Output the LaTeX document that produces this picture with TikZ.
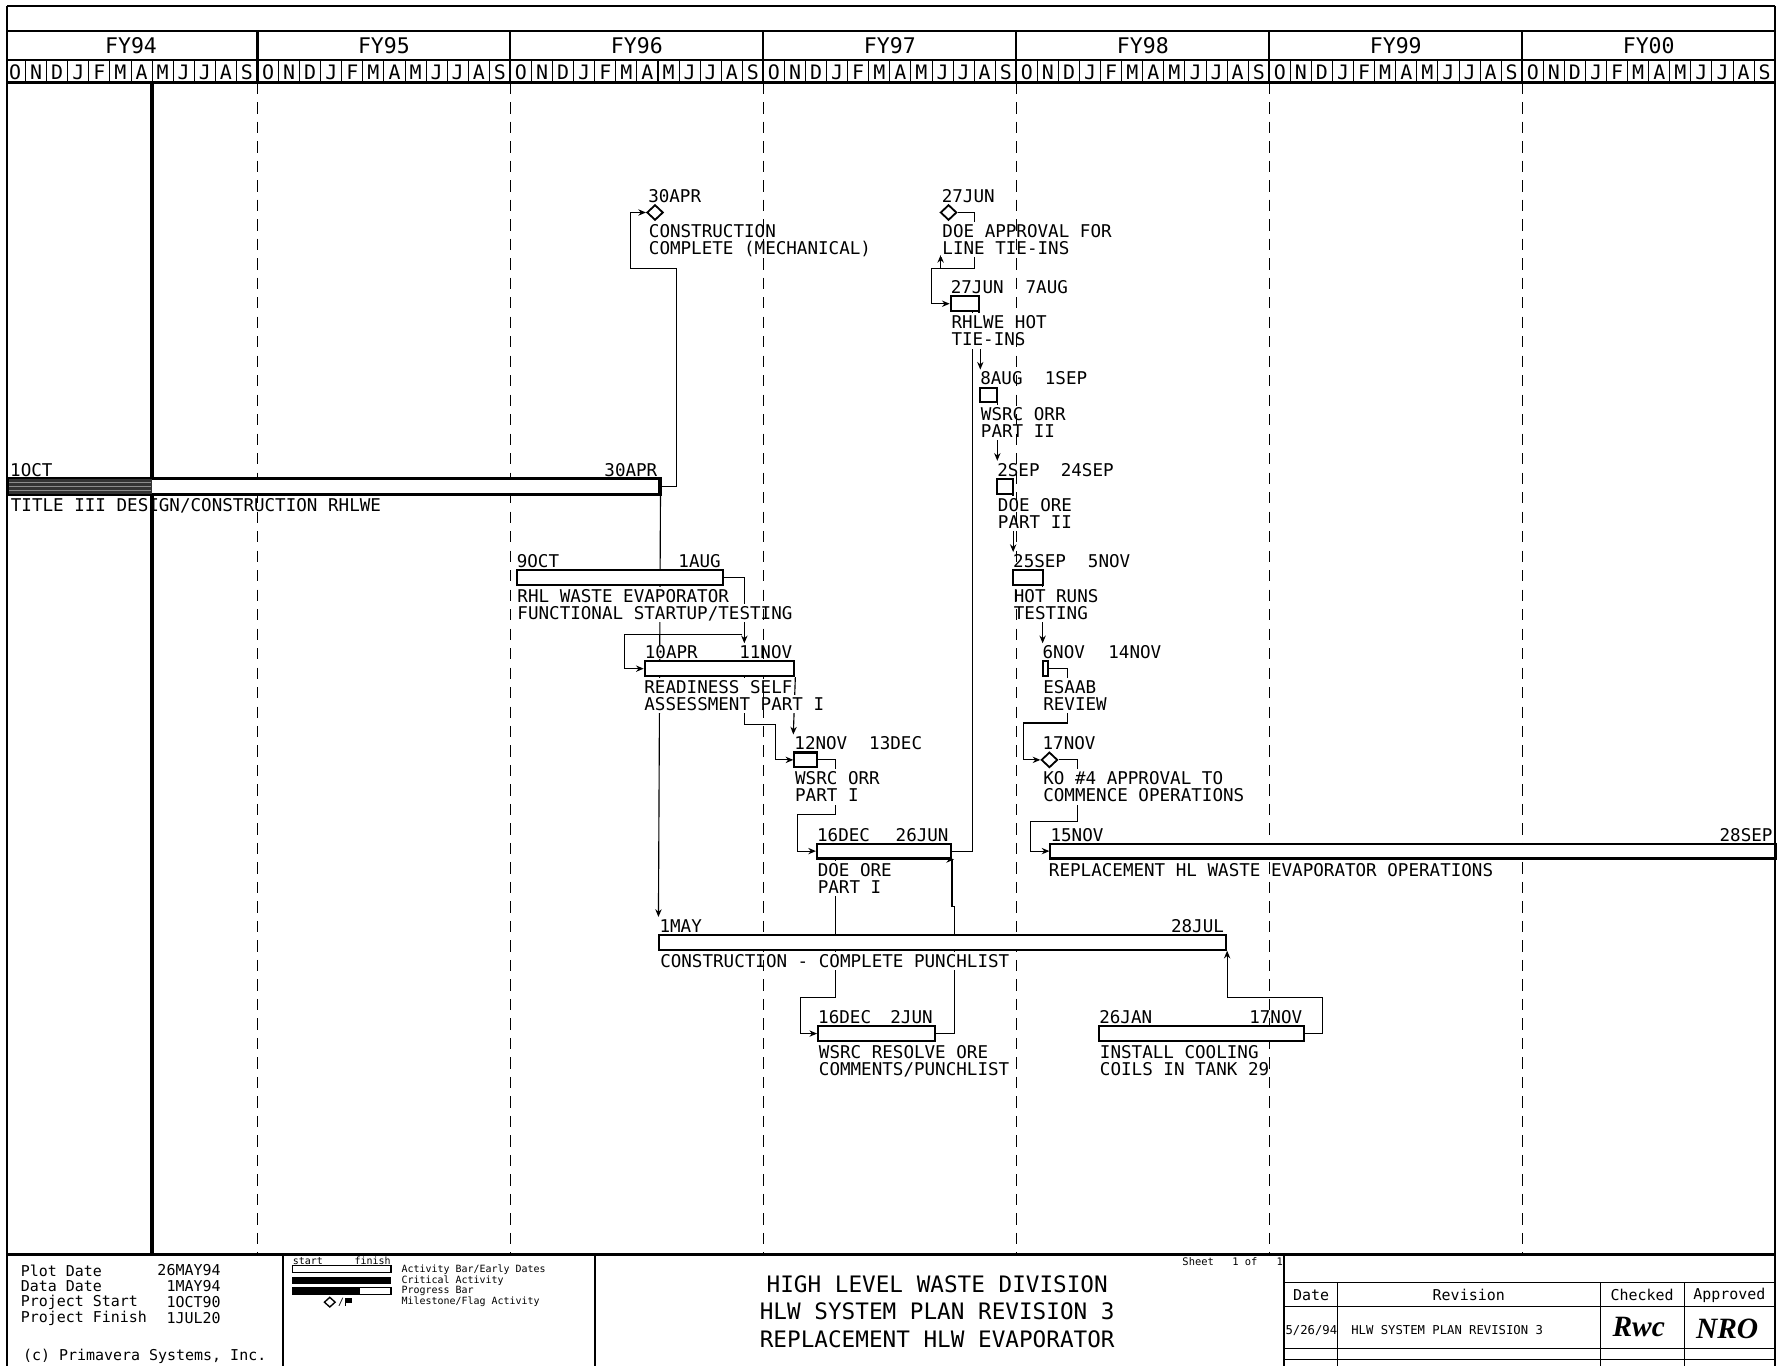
\documentclass[tikz,border=0pt]{standalone}
\usepackage{fontspec}
\setmonofont{DejaVu Sans Mono}
\newfontfamily\sigfont{Liberation Serif}
\usetikzlibrary{arrows.meta,shapes.geometric,calc}
\pgfdeclarelayer{bgl}
\pgfdeclarelayer{connl}
\pgfdeclarelayer{txtl}
\pgfdeclarelayer{grdl}
\pgfsetlayers{bgl,connl,txtl,grdl,main}
\newcommand\pf[1]{\ttfamily\fontsize{#1}{#1}\selectfont}
\tikzset{
 conn/.style={line width=0.5pt},
 arr/.style={-{Stealth[length=3.4pt,width=2.8pt]}},
 actbox/.style={draw,line width=0.9pt,fill=white,minimum height=6.5pt,inner sep=0pt,anchor=west},
 msd/.style={draw,diamond,line width=0.8pt,fill=white,minimum width=7.2pt,minimum height=6.8pt,inner sep=0pt},
 lbl/.style={font=\pf{7.75},anchor=west,inner sep=0.3pt,fill=white,text height=5.65pt,text depth=0pt},
 lble/.style={lbl,anchor=east},
 dsc/.style={lbl,inner ysep=1.2pt,inner xsep=0.6pt},
 grd/.style={line width=0.55pt,dash pattern=on 5pt off 3.6pt},
 frm/.style={line width=0.9pt},
 thinl/.style={line width=0.45pt},
 hdr/.style={font=\pf{9.5},inner sep=0pt},
 mon/.style={font=\pf{8.8},inner sep=0pt},
 ft/.style={font=\pf{6.6},inner sep=0pt,anchor=west},
 fte/.style={ft,anchor=east},
 lg/.style={font=\pf{4.4},inner sep=0pt,anchor=west},
 ttl/.style={font=\pf{10},inner sep=0pt},
 rv/.style={font=\pf{6.6},inner sep=0pt},
 sig/.style={font=\sigfont\bfseries\itshape\fontsize{13}{13}\selectfont,inner sep=0pt},
}
\newcommand\actbar[4]{\node[actbox,minimum width={(#3-#2)*0.5pt}] (#1) at (#2,#4) {};}
\begin{document}
\begin{tikzpicture}[x=0.5pt,y=-0.5pt]
\useasboundingbox (0,0) rectangle (1568,1205);
\begin{pgfonlayer}{bgl}\fill[white] (0,0) rectangle (1568,1205);\end{pgfonlayer}

% ---------- activity bars ----------
\actbar{hot}{838}{863}{268}
\actbar{wsrcb}{864}{879}{348.5}
\actbar{title}{7}{581}{429}
\actbar{doeb}{879}{893}{429}
\actbar{rhl}{455}{637}{509.5}
\actbar{runs}{893}{919}{509.5}
\actbar{ready}{568}{700}{590}
\actbar{esaab}{919}{924}{590}
\actbar{wsrca}{700}{720}{670.5}
\actbar{doea}{720}{838}{751}
\actbar{repl}{926}{1566}{751}
\actbar{punch}{581}{1081}{831.5}
\actbar{resolve}{721}{824}{912}
\actbar{cool}{969}{1150}{912}
\node[msd] (msa) at (578,187.5) {};
\node[msd] (msb) at (837,187.5) {};
\node[msd] (msc) at (926,670.5) {};
% progress part of title bar
\fill[black!80] (title.north west) rectangle ($(title.south west)+(127,0)$);
\foreach \yy in {425.5,429,432.5}{\draw[black!45,line width=0.3pt] (8,\yy) -- (133,\yy);}
\draw[line width=0.9pt] (title.north west) rectangle (title.south east);

% ---------- connectors ----------
\begin{pgfonlayer}{connl}
\coordinate (c1a) at (597,237);
\coordinate (c1b) at (556,237);
\draw[conn,arr] (title.east) -| (c1a) -- (c1b) |- (msa.west);
\draw[conn,arr] (title.south east) -- ($(punch.north west)+(0,-15)$);
\draw[conn,arr] (rhl.east) -| ($(ready.north east)+(-45,-15)$);
\coordinate (c4a) at (655,560);
\coordinate (c4b) at (551,560);
\draw[conn,arr] (c4a) -- (c4b) |- (ready.west);
\coordinate (c5a) at (684,639);
\draw[conn,arr] ($(ready.south east)+(-45,0)$) |- (c5a) |- (wsrca.west);
\draw[conn,arr] (ready.south east) -- ($(wsrca.north west)+(0,-15)$);
\coordinate (c7a) at (737,719);
\coordinate (c7b) at (704,719);
\draw[conn,arr] (wsrca.east) -| (c7a) -- (c7b) |- (doea.west);
\draw[conn] (doea.east) -| ($(hot.south east)+(-7,0)$);
\coordinate (c9a) at (737,880);
\coordinate (c9b) at (706,880);
\draw[conn,arr] ($(doea.south west)+(17,0)$) -- (c9a) -- (c9b) |- (resolve.west);
\coordinate (c10a) at (842,800);
\coordinate (c10b) at (840,800);
\draw[conn,arr] (resolve.east) -| (c10a) -- (c10b) |- ($(doea.south east)+(2,0)$);
\coordinate (c11a) at (1167,880);
\draw[conn,arr] (cool.east) -| (c11a) -| (punch.south east);
\coordinate (c12a) at (860,237);
\coordinate (c12b) at (822,237);
\draw[conn,arr] (msb.east) -| (c12a) -- (c12b) |- (hot.west);
\coordinate (c12c) at (830,237);
\coordinate (c12d) at (830,225);
\draw[conn,arr] (c12c) -- (c12d);
\draw[conn,arr] ($(hot.south east)+(-1,0)$) -- ++(0,31) -| ($(wsrcb.north west)+(1,-15)$);
\draw[conn,arr] ($(wsrcb.south east)+(-1,0)$) -- ++(0,31) -| ($(doeb.north west)+(1,-15)$);
\draw[conn,arr] ($(doeb.south east)+(-1,0)$) -- ++(0,31) -| ($(runs.north west)+(1,-15)$);
\draw[conn,arr] ($(runs.south east)+(-1,0)$) -- ++(0,31) -| ($(esaab.north west)+(1,-15)$);
\coordinate (c17a) at (942,638);
\coordinate (c17b) at (903,638);
\draw[conn,arr] (esaab.east) -| (c17a) -- (c17b) |- (msc.west);
\coordinate (c18a) at (951,725);
\coordinate (c18b) at (909,725);
\draw[conn,arr] (msc.east) -| (c18a) -- (c18b) |- (repl.west);
\end{pgfonlayer}

% ---------- labels ----------
\begin{pgfonlayer}{txtl}
\node[lbl] (tmsad) at (571,173) {30APR};
\node[dsc] (tmsa1) at (571,204) {CONSTRUCTION};
\node[dsc] (tmsa2) at (571,219) {COMPLETE (MECHANICAL)};
\node[lbl] (tmsbd) at (830,173) {27JUN};
\node[dsc] (tmsb1) at (830,204) {DOE APPROVAL FOR};
\node[dsc] (tmsb2) at (830,219) {LINE TIE-INS};
\node[lbl] (thots) at (838,253.5) {27JUN};
\node[lbl] (thotf) at (904,253.5) {7AUG};
\node[dsc] (thot1) at (838,284.5) {RHLWE HOT};
\node[dsc] (thot2) at (838,299.5) {TIE-INS};
\node[lbl] (twbs) at (864,334) {8AUG};
\node[lbl] (twbf) at (921,334) {1SEP};
\node[dsc] (twb1) at (864,365) {WSRC ORR};
\node[dsc] (twb2) at (864,380) {PART II};
\node[lbl] (ttis) at (8,414.5) {1OCT};
\node[lble] (ttif) at (581,414.5) {30APR};
\node[dsc] (tti1) at (8,445.5) {TITLE III DESIGN/CONSTRUCTION RHLWE};
\node[lbl] (tdbs) at (879,414.5) {2SEP};
\node[lbl] (tdbf) at (935,414.5) {24SEP};
\node[dsc] (tdb1) at (879,445.5) {DOE ORE};
\node[dsc] (tdb2) at (879,460.5) {PART II};
\node[lbl] (trhs) at (455,495) {9OCT};
\node[lble] (trhf) at (637,495) {1AUG};
\node[dsc] (trh1) at (455,526) {RHL WASTE EVAPORATOR};
\node[dsc] (trh2) at (455,541) {FUNCTIONAL STARTUP/TESTING};
\node[lbl] (trus) at (893,495) {25SEP};
\node[lbl] (truf) at (959,495) {5NOV};
\node[dsc] (tru1) at (893,526) {HOT RUNS};
\node[dsc] (tru2) at (893,541) {TESTING};
\node[lbl] (tres) at (568,575.5) {10APR};
\node[lble] (tref) at (700,575.5) {11NOV};
\node[dsc] (tre1) at (567,606.5) {READINESS SELF};
\node[dsc] (tre2) at (567,621.5) {ASSESSMENT PART I};
\node[lbl] (tess) at (919,575.5) {6NOV};
\node[lbl] (tesf) at (977,575.5) {14NOV};
\node[dsc] (tes1) at (919,606.5) {ESAAB};
\node[dsc] (tes2) at (919,621.5) {REVIEW};
\node[lbl] (twas) at (700,656) {12NOV};
\node[lbl] (twaf) at (766,656) {13DEC};
\node[dsc] (twa1) at (700,687) {WSRC ORR};
\node[dsc] (twa2) at (700,702) {PART I};
\node[lbl] (tmscd) at (919,656) {17NOV};
\node[dsc] (tmsc1) at (919,687) {KO \#4 APPROVAL TO};
\node[dsc] (tmsc2) at (919,702) {COMMENCE OPERATIONS};
\node[lbl] (tdas) at (720,736.5) {16DEC};
\node[lble] (tdaf) at (838,736.5) {26JUN};
\node[dsc] (tda1) at (720,767.5) {DOE ORE};
\node[dsc] (tda2) at (720,782.5) {PART I};
\node[lbl] (trps) at (926,736.5) {15NOV};
\node[lble] (trpf) at (1565,736.5) {28SEP};
\node[dsc] (trp1) at (924,767.5) {REPLACEMENT HL WASTE EVAPORATOR OPERATIONS};
\node[lbl] (tpus) at (581,817) {1MAY};
\node[lble] (tpuf) at (1081,817) {28JUL};
\node[dsc] (tpu1) at (581,848) {CONSTRUCTION - COMPLETE PUNCHLIST};
\node[lbl] (trss) at (721,897.5) {16DEC};
\node[lble] (trsf) at (824,897.5) {2JUN};
\node[dsc] (trs1) at (721,928.5) {WSRC RESOLVE ORE};
\node[dsc] (trs2) at (721,943.5) {COMMENTS/PUNCHLIST};
\node[lbl] (tcos) at (969,897.5) {26JAN};
\node[lble] (tcof) at (1150,897.5) {17NOV};
\node[dsc] (tco1) at (969,928.5) {INSTALL COOLING};
\node[dsc] (tco2) at (969,943.5) {COILS IN TANK 29};
\end{pgfonlayer}

% ---------- grid ----------
\begin{pgfonlayer}{grdl}
\foreach \kk in {1,...,6}{\draw[grd] ({4+223.2*\kk},73) -- ({4+223.2*\kk},1107);}
\draw[line width=1.5pt] (134.2,73) -- (134.2,1107);
\end{pgfonlayer}

% ---------- header ----------
\draw[frm] (6,5) -- (1566,5);
\draw[frm] (6,27) -- (1566,27);
\draw[frm] (6,53) -- (1566,53);
\draw[line width=1.2pt] (6,73) -- (1566,73);
\foreach \kk in {1,...,6}{\draw[frm] ({4+223.2*\kk},27) -- ({4+223.2*\kk},73);}
\foreach \mm in {1,...,83}{\draw[thinl] ({4+18.6*\mm},53) -- ({4+18.6*\mm},73);}
\foreach \lab [count=\kk from 0] in {FY94,FY95,FY96,FY97,FY98,FY99,FY00}{
  \node[hdr] (fy\kk) at ({4+223.2*(\kk+0.5)},40) {\lab};}
\foreach \yr in {0,...,6}{
  \foreach \mo [count=\ii from 0] in {O,N,D,J,F,M,A,M,J,J,A,S}{
    \node[mon] (mo\yr-\ii) at ({4+18.6*(12*\yr+\ii)+9.3},63.5) {\mo};}}
\draw[frm] (6,5) -- (6,1205);
\draw[frm] (1566,5) -- (1566,1205);

% ---------- footer ----------
\draw[line width=1.2pt] (6,1107) -- (1566,1107);
\draw[frm] (250,1107) -- (250,1205);
\draw[frm] (525,1107) -- (525,1205);
\draw[frm] (1133,1107) -- (1133,1205);
\foreach \yy in {1132,1153,1190,1200}{\draw[thinl] (1133,\yy) -- (1566,\yy);}
\foreach \xx in {1180,1412,1486}{\draw[thinl] (\xx,1132) -- (\xx,1205);}

\node[ft] (pd) at (18,1121) {Plot Date};
\node[fte] (pdv) at (195,1121) {26MAY94};
\node[ft] (dd) at (18,1135) {Data Date};
\node[fte] (ddv) at (195,1135) {1MAY94};
\node[ft] (ps) at (18,1149) {Project Start};
\node[fte] (psv) at (195,1149) {1OCT90};
\node[ft] (pf) at (18,1163) {Project Finish};
\node[fte] (pfv) at (195,1163) {1JUL20};
\node[ft] (cpy) at (20,1197) {(c) Primavera Systems, Inc.};

\node[lg] (lgs) at (258,1112.5) {start};
\node[lg,anchor=east] (lgf) at (345,1112.5) {finish};
\draw[line width=0.5pt] (258,1117) rectangle (345,1123);
\fill (258,1127) rectangle (345,1133);
\draw[line width=0.5pt] (258,1136) rectangle (345,1142);
\fill (258,1136) rectangle (318,1142);
\node[draw,diamond,line width=0.6pt,minimum width=5pt,minimum height=4.5pt,inner sep=0pt] (lgd) at (291,1149) {};
\node[lg] (lgsl) at (298,1149) {/};
\fill (305,1145.5) rectangle (311,1150);
\draw[line width=0.4pt] (305,1145.5) -- (305,1152);
\node[lg] (lg1) at (354,1120.5) {Activity Bar/Early Dates};
\node[lg] (lg2) at (354,1130) {Critical Activity};
\node[lg] (lg3) at (354,1139) {Progress Bar};
\node[lg] (lg4) at (354,1149) {Milestone/Flag Activity};

\node[ttl] (ti1) at (827,1133) {HIGH LEVEL WASTE DIVISION};
\node[ttl] (ti2) at (827,1157) {HLW SYSTEM PLAN REVISION 3};
\node[ttl] (ti3) at (827,1182) {REPLACEMENT HLW EVAPORATOR};
\node[lg,font=\pf{4.6}] (sh1) at (1043,1113) {Sheet};
\node[lg,font=\pf{4.6}] (sh2) at (1087,1113) {1 of};
\node[lg,font=\pf{4.6}] (sh3) at (1126,1113) {1};

\node[rv] (rh1) at (1157,1143) {Date};
\node[rv] (rh2) at (1296,1143) {Revision};
\node[rv] (rh3) at (1449,1143) {Checked};
\node[rv] (rh4) at (1526,1143) {Approved};
\node[ft,font=\pf{5.4}] (rd1) at (1134,1174) {5/26/94};
\node[ft,font=\pf{5.4}] (rd2) at (1192,1174) {HLW SYSTEM PLAN REVISION 3};
\node[sig] (sg1) at (1446,1171) {Rwc};
\node[sig] (sg2) at (1524,1173) {NRO};
\end{tikzpicture}
\end{document}
